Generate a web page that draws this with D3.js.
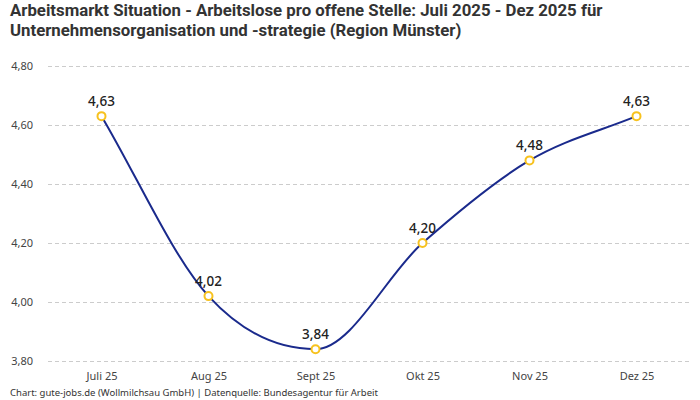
<!DOCTYPE html>
<html>
<head>
<meta charset="utf-8">
<script src="https://cdn.jsdelivr.net/npm/d3@7"></script>
<style>
  body { margin: 0; background: #fff; }
  .title { font-family: "Liberation Sans Narrow", "Roboto", sans-serif; font-weight: bold; font-size: 16.8px; fill: #333; }
  .axis text { font-family: "Noto Sans", sans-serif; font-size: 11px; fill: #444; }
  .val { font-family: "Noto Sans", sans-serif; font-size: 13.5px; font-weight: 500; fill: #222; }
  .footer { font-family: "Noto Sans", sans-serif; font-size: 9.5px; fill: #333; }
</style>
</head>
<body>
<div id="chart"></div>
<script>
const months = ['Juli 25', 'Aug 25', 'Sept 25', 'Okt 25', 'Nov 25', 'Dez 25'];
const ratio = [4.63, 4.02, 3.84, 4.20, 4.48, 4.63];
const yTicks = [3.8, 4.0, 4.2, 4.4, 4.6, 4.8];
const titleLines = [
    'Arbeitsmarkt Situation - Arbeitslose pro offene Stelle: Juli 2025 - Dez 2025 für',
    'Unternehmensorganisation und -strategie (Region Münster)'
];
const footerText = 'Chart: gute-jobs.de (Wollmilchsau GmbH) | Datenquelle: Bundesagentur für Arbeit';

const width = 700, height = 400;
const margin = { top: 66, right: 10, bottom: 39, left: 48 };

const fmt = v => v.toFixed(2).replace('.', ',');

const svg = d3.select('#chart').append('svg')
    .attr('width', width)
    .attr('height', height);

// title
svg.append('text')
    .classed('title', true)
    .selectAll('tspan')
    .data(titleLines)
    .join('tspan')
    .attr('x', 10)
    .attr('y', (d, i) => 16 + i * 20)
    .text(d => d);

const x = d3.scalePoint()
    .domain(months)
    .range([margin.left, width - margin.right])
    .padding(0.5);

const y = d3.scaleLinear()
    .domain([3.8, 4.8])
    .range([height - margin.bottom, margin.top]);

// grid + y axis
const yAxis = svg.append('g')
    .classed('axis', true)
    .attr('transform', 'translate(' + margin.left + ',0)')
    .call(d3.axisLeft(y).tickValues(yTicks).tickFormat(fmt).tickSize(-(width - margin.left - margin.right)).tickPadding(15));
yAxis.select('.domain').remove();
yAxis.selectAll('line')
    .attr('stroke', '#ccc')
    .attr('stroke-dasharray', '4,3');

// x axis
const xAxis = svg.append('g')
    .classed('axis', true)
    .attr('transform', 'translate(0,' + (height - margin.bottom) + ')')
    .call(d3.axisBottom(x).tickSize(0).tickPadding(11));
xAxis.select('.domain').remove();

// monotone spline with secant end tangents (chart.js style)
function monotonePath(pts) {
    const n = pts.length;
    const delta = [], m = [];
    for (let i = 0; i < n - 1; i++) {
        delta.push((pts[i + 1][1] - pts[i][1]) / (pts[i + 1][0] - pts[i][0]));
    }
    for (let i = 0; i < n; i++) {
        if (i === 0) m.push(delta[0]);
        else if (i === n - 1) m.push(delta[n - 2]);
        else if (delta[i - 1] * delta[i] <= 0) m.push(0);
        else m.push((delta[i - 1] + delta[i]) / 2);
    }
    for (let i = 0; i < n - 1; i++) {
        if (Math.abs(delta[i]) < 1e-9) { m[i] = m[i + 1] = 0; continue; }
        const a = m[i] / delta[i], b = m[i + 1] / delta[i];
        const s = a * a + b * b;
        if (s > 9) {
            const t = 3 / Math.sqrt(s);
            m[i] = a * t * delta[i];
            m[i + 1] = b * t * delta[i];
        }
    }
    const p = d3.path();
    p.moveTo(pts[0][0], pts[0][1]);
    for (let i = 0; i < n - 1; i++) {
        const dx = (pts[i + 1][0] - pts[i][0]) / 3;
        p.bezierCurveTo(
            pts[i][0] + dx, pts[i][1] + m[i] * dx,
            pts[i + 1][0] - dx, pts[i + 1][1] - m[i + 1] * dx,
            pts[i + 1][0], pts[i + 1][1]);
    }
    return p.toString();
}

const points = ratio.map((d, i) => [x(months[i]), y(d)]);

svg.append('path')
    .attr('fill', 'none')
    .attr('stroke', '#1a2a8c')
    .attr('stroke-width', 2)
    .attr('d', monotonePath(points));

// markers
svg.selectAll('circle.pt')
    .data(ratio)
    .join('circle')
    .classed('pt', true)
    .attr('cx', (d, i) => x(months[i]))
    .attr('cy', d => y(d))
    .attr('r', 4)
    .attr('fill', '#fff')
    .attr('stroke', '#f7c21e')
    .attr('stroke-width', 2);

// value labels
svg.selectAll('text.val')
    .data(ratio)
    .join('text')
    .classed('val', true)
    .attr('x', (d, i) => x(months[i]))
    .attr('y', d => y(d) - 10)
    .attr('text-anchor', 'middle')
    .text(fmt);

// footer
svg.append('text')
    .classed('footer', true)
    .attr('x', 10)
    .attr('y', 396)
    .text(footerText);
</script>
</body>
</html>
